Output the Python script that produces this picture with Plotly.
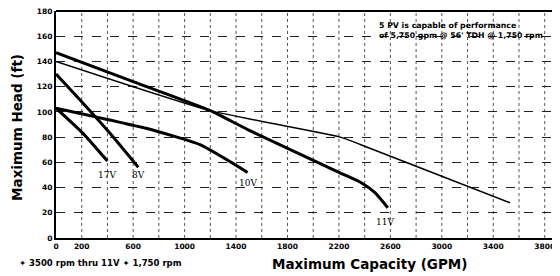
import plotly.graph_objects as go

# ---- data ----
x_ticks = [0, 200, 600, 1000, 1400, 1800, 2200, 2600, 3000, 3400, 3800]
x_ticktext = ["0", "200", "600", "1000", "1400", "1800", "2200", "2600", "3000", "3400", "3800"]
y_ticks = [0, 20, 40, 60, 80, 100, 120, 140, 160, 180]

gpm_17v = [0, 210, 400]
head_17v = [103, 83, 61]

gpm_8v = [0, 200, 420, 640]
head_8v = [130, 108, 83, 56]

gpm_10v = [0, 700, 1120, 1490]
head_10v = [103, 87, 74, 52]

gpm_11v = [0, 600, 1200, 1490, 2200, 2370, 2480, 2580]
head_11v = [147, 124, 101, 86, 52, 44, 36, 24]

gpm_5pv = [0, 1200, 2210, 2370, 3000, 3530]
head_5pv = [140, 101, 80, 74, 49, 28]

labels = ["17V", "8V", "10V", "11V"]
label_x = [400, 640, 1490, 2560]
label_y = [50, 50, 44, 13]

fig = go.Figure()

thick = dict(color="black", width=3)
for gx, hy in [(gpm_17v, head_17v), (gpm_8v, head_8v), (gpm_10v, head_10v), (gpm_11v, head_11v)]:
    fig.add_trace(go.Scatter(x=gx, y=hy, mode="lines", line=dict(shape="spline", smoothing=0.5, **thick),
                             showlegend=False, hoverinfo="skip"))
fig.add_trace(go.Scatter(x=gpm_5pv, y=head_5pv, mode="lines",
                         line=dict(color="black", width=1.5, shape="spline", smoothing=0.5),
                         showlegend=False, hoverinfo="skip"))

for t, lx, ly in zip(labels, label_x, label_y):
    fig.add_annotation(x=lx, y=ly, text=t, showarrow=False, xanchor="center", yanchor="middle",
                       font=dict(family="DejaVu Serif", size=9, color="black"))

# top-right note
fig.add_annotation(xref="paper", yref="paper", x=0.643, y=0.965, xanchor="left", yanchor="top",
                   align="left", showarrow=False,
                   text="5 PV is capable of performance<br>of 5,750 gpm @ 56' TDH @ 1,750 rpm",
                   font=dict(family="DejaVu Sans", size=7.8, color="black", weight="bold"))

# footnote
fig.add_annotation(xref="paper", yref="paper", x=-0.078, y=-0.11, xanchor="left", yanchor="middle",
                   showarrow=False, text="\u2726 3500 rpm thru 11V \u2726 1,750 rpm",
                   font=dict(family="DejaVu Sans", size=8.5, color="black", weight="bold"))

# axis titles
fig.add_annotation(xref="paper", yref="paper", x=0.105, y=-0.115, xanchor="center", yanchor="middle",
                   showarrow=False, text="Maximum Capacity (GPM)", xshift=261,
                   font=dict(family="DejaVu Sans", size=13.5, color="black", weight="bold"))
fig.add_annotation(xref="paper", yref="paper", x=0, y=0.485, xanchor="center", yanchor="middle",
                   showarrow=False, text="Maximum Head (ft)", textangle=-90, xshift=-39,
                   font=dict(family="DejaVu Sans", size=13.5, color="black", weight="bold"))

# figure is 8px smaller than the window to allow for the page's default body margin
fig.update_layout(
    width=552, height=268,
    margin=dict(l=48, r=5, t=3, b=38),
    paper_bgcolor="white", plot_bgcolor="white",
    xaxis=dict(range=[0, 3880], tickvals=x_ticks, ticktext=x_ticktext, automargin=False,
               showgrid=False, ticklabeloverflow="allow",
               showline=True, linecolor="black", linewidth=2, mirror=False,
               zeroline=False, ticks="",
               tickfont=dict(family="DejaVu Sans", size=7.5, color="black", weight="bold")),
    yaxis=dict(range=[0, 180], tickvals=y_ticks, automargin=False,
               showgrid=True, gridcolor="#222", griddash="dash", gridwidth=1,
               ticklabeloverflow="allow",
               showline=True, linecolor="black", linewidth=2,
               zeroline=False, ticks="",
               tickfont=dict(family="DejaVu Sans", size=7.5, color="black", weight="bold")),
)

# vertical dotted grid every 200 GPM
for gx in range(200, 3880, 200):
    fig.add_vline(x=gx, line=dict(color="#555", width=1, dash="dot"), layer="below")
# top border
fig.add_shape(type="line", xref="paper", yref="paper", x0=0, x1=1, y0=1, y1=1,
              line=dict(color="black", width=2), layer="above")

fig.write_html("out.html")
